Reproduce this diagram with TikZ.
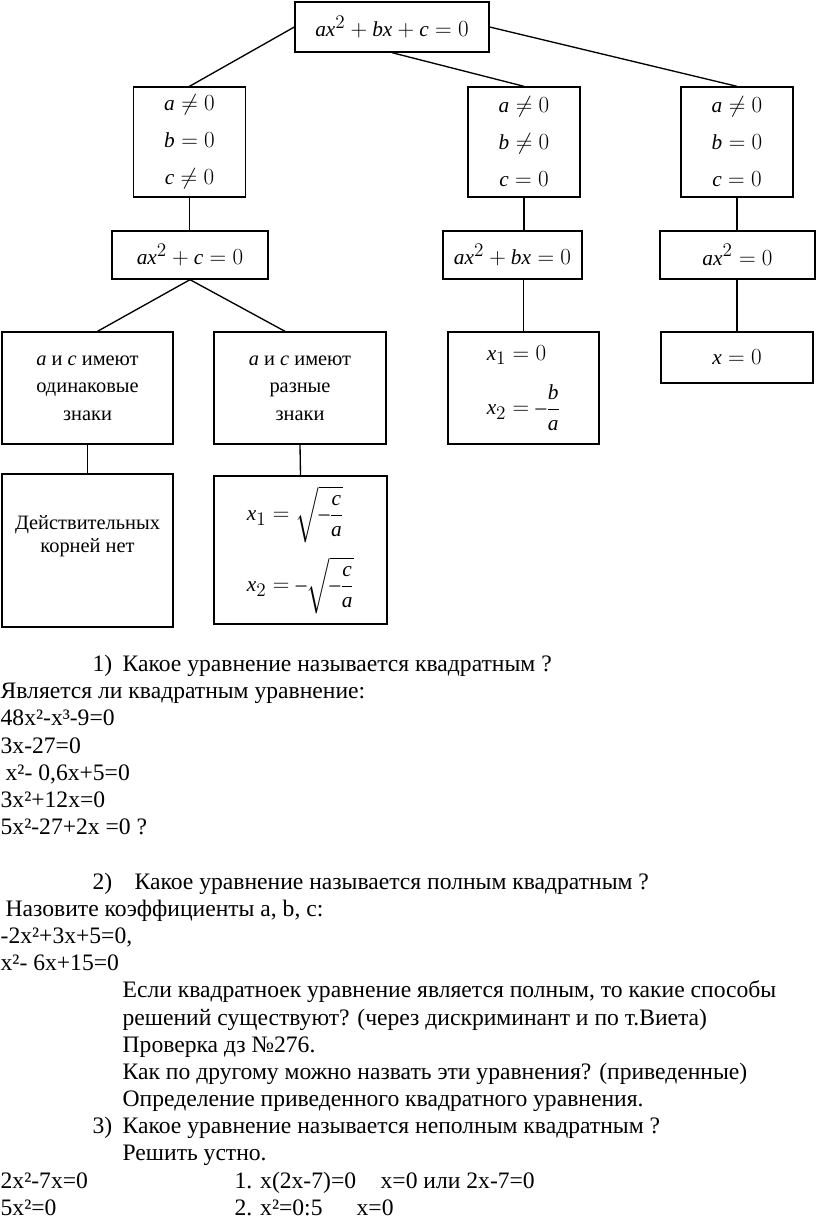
\documentclass[tikz,border=0pt]{standalone}
\usepackage{amsmath}
\usepackage{fontspec}
\setmainfont{Liberation Serif}
\usepackage[italic]{mathastext}
\usetikzlibrary{positioning,calc}

\begin{document}
\begin{tikzpicture}[
    x=0.75pt, y=-0.75pt,
    line width=1pt,
    box/.style={draw, rectangle, inner sep=0pt, align=center},
    cond/.style={box, minimum width=84pt, minimum height=82.5pt,
        font=\fontsize{16}{27.75}\selectfont},
    eqn/.style={box, minimum height=36pt, font=\fontsize{16}{19}\selectfont},
    signbox/.style={box, minimum height=84pt, font=\fontsize{15.3}{20.6}\selectfont},
    txt/.style={anchor=base west, inner sep=0pt, font=\fontsize{17.7}{20}\selectfont}
]
\useasboundingbox (0,0) rectangle (816,1225);

% Tree of cases
\node[box, minimum width=145.5pt, minimum height=37.5pt,
    font=\fontsize{16}{19}\selectfont] (full) at (392,27) {$ax^2+bx+c=0$};

\node[cond] (cond1) at (189.5,142) {$a\neq 0$\\ $b=0$\\ $c\neq 0$};
\node[cond] (cond2) at (524,142) {$a\neq 0$\\ $b\neq 0$\\ $c=0$};
\node[cond] (cond3) at (737,142) {$a\neq 0$\\ $b=0$\\ $c=0$};

\node[eqn, minimum width=117pt] (eqc) at (190,255) {$ax^2+c=0$};
\node[eqn, minimum width=104.25pt] (eqb) at (512.5,255) {$ax^2+bx=0$};
\node[eqn, minimum width=116.25pt] (eqz) at (737.5,255) {$ax^2=0$};

\node[signbox, minimum width=128.25pt] (same) at (87.5,388)
    {$a$ и $c$ имеют\\ одинаковые\\ знаки};
\node[signbox, minimum width=129pt] (diff) at (300,388)
    {$a$ и $c$ имеют\\ разные\\ знаки};
\node[box, minimum width=113.25pt, minimum height=84pt, align=left,
    font=\fontsize{16}{19}\selectfont] (rootsb) at (523.5,388)
    {$x_1=0$\\[14pt] $x_2=-\dfrac{b}{a}$};
\node[eqn, minimum width=114pt, minimum height=38.25pt] (rootz) at (737,357.5) {$x=0$};

\node[box, minimum width=128.25pt, minimum height=114.75pt] (noroots) at (87.5,550.5) {};
\node[align=center, font=\fontsize{15.3}{17.5}\selectfont] (noroots-text) at (87.5,536)
    {Действительных\\ корней нет};
\node[box, minimum width=129.75pt, minimum height=111pt, align=left,
    font=\fontsize{16}{19}\selectfont] (rootsc) at (300.5,550)
    {$x_1=\sqrt{-\dfrac{c}{a}}$\\[10pt] $x_2=-\sqrt{-\dfrac{c}{a}}$};

% Connectors
\draw (full.west) -- (cond1.north);
\draw (full.south) -- (cond2.north);
\draw (full.east) -- (cond3.north);
\draw (cond1.south) -- (cond1.south |- eqc.north);
\draw (cond2.south) -- (cond2.south |- eqb.north);
\draw (cond3.south) -- (cond3.south |- eqz.north);
\draw (eqc.south) -- ([xshift=7.5pt]same.north);
\draw (eqc.south) -- ([xshift=-11.25pt]diff.north);
\draw (rootsb.north |- eqb.south) -- (rootsb.north);
\draw (rootz.north |- eqz.south) -- (rootz.north);
\draw (same.south) -- (noroots.north);
\draw (diff.south) -- (rootsc.north);

% Questions
\node[txt] (q1num) at (92,671) {1)};
\node[txt] (q1) at (122,671) {Какое уравнение называется квадратным ?};
\node[txt] (q1a) at (0,698) {Является ли квадратным уравнение:};
\node[txt] (e1) at (0,725) {48x²-x³-9=0};
\node[txt] (e2) at (0,753) {3x-27=0};
\node[txt] (e3) at (5,780) {x²- 0,6x+5=0};
\node[txt] (e4) at (0,807) {3x²+12x=0};
\node[txt] (e5) at (0,834) {5x²-27+2x =0 ?};

\node[txt] (q2num) at (92,889) {2)};
\node[txt] (q2) at (134,889) {Какое уравнение называется полным квадратным ?};
\node[txt] (q2a) at (5,916) {Назовите коэффициенты a, b, c:};
\node[txt] (e6) at (0,943) {-2x²+3x+5=0,};
\node[txt] (e7) at (0,970) {x²- 6x+15=0};
\node[txt] (q2b) at (122,997) {Если квадратноек уравнение является полным, то какие способы};
\node[txt] (q2c) at (122,1025) {решений существуют? (через дискриминант и по т.Виета)};
\node[txt] (q2d) at (122,1052) {Проверка дз №276.};
\node[txt] (q2e) at (122,1079) {Как по другому можно назвать эти уравнения? (приведенные)};
\node[txt] (q2f) at (122,1106) {Определение приведенного квадратного уравнения.};

\node[txt] (q3num) at (92,1133) {3)};
\node[txt] (q3) at (122,1133) {Какое уравнение называется неполным квадратным ?};
\node[txt] (q3a) at (122,1160) {Решить устно.};
\node[txt] (e8) at (0,1188) {2x²-7x=0};
\node[txt] (s8) at (234,1188) {1. x(2x-7)=0};
\node[txt] (s8b) at (380,1188) {x=0 или 2x-7=0};
\node[txt] (e9) at (0,1215) {5x²=0};
\node[txt] (s9) at (234,1215) {2. x²=0:5};
\node[txt] (s9b) at (356,1215) {x=0};

\end{tikzpicture}
\end{document}
